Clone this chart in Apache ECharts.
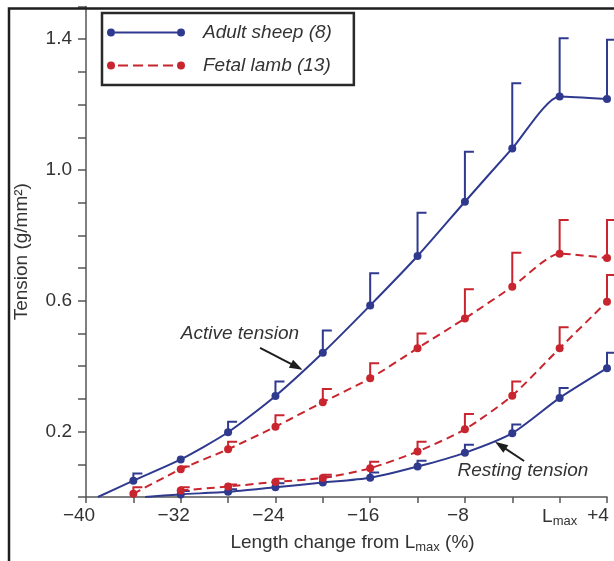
<!DOCTYPE html>
<html lang="en" style="height: 100%">
<head>
  <meta charset="utf-8">
  <title>Tension vs length change</title>
  <script type="text/javascript" src="https://fastly.jsdelivr.net/npm/echarts@6/dist/echarts.min.js"></script>
</head>
<body style="height: 100%; margin: 0; background: #fff">
  <div id="chart" style="width: 614px; height: 561px"></div>

  <script type="text/javascript">
    var dom = document.getElementById('chart');
    var myChart = echarts.init(dom);

    // x = length change from Lmax (%), y = tension (g/mm2)
    let adultActiveOrigin = -39;
    let adultActiveX = [-36, -32, -28, -24, -20, -16, -12, -8, -4, 0, 4];
    let adultActive = [0.05, 0.115, 0.198, 0.309, 0.441, 0.586, 0.737, 0.903, 1.066, 1.225, 1.217];
    let adultActiveErr = [0.022, 0, 0.032, 0.044, 0.068, 0.098, 0.132, 0.153, 0.199, 0.178, 0.181];

    let adultRestingOrigin = -35;
    let adultRestingX = [-32, -28, -24, -20, -16, -12, -8, -4, 0, 4];
    let adultResting = [0.008, 0.016, 0.03, 0.044, 0.059, 0.093, 0.135, 0.195, 0.303, 0.394];
    let adultRestingErr = [0.01, 0.008, 0.012, 0.018, 0.016, 0.018, 0.025, 0.027, 0.03, 0.047];

    let fetalActiveX = [-36, -32, -28, -24, -20, -16, -12, -8, -4, 0, 4];
    let fetalActive = [0.01, 0.085, 0.146, 0.215, 0.29, 0.363, 0.455, 0.546, 0.643, 0.744, 0.731];
    let fetalActiveErr = [0.02, 0.008, 0.023, 0.035, 0.04, 0.046, 0.045, 0.089, 0.104, 0.103, 0.116];

    let fetalRestingX = [-32, -28, -24, -20, -16, -12, -8, -4, 0, 4];
    let fetalResting = [0.02, 0.032, 0.046, 0.058, 0.088, 0.139, 0.207, 0.31, 0.455, 0.597];
    let fetalRestingErr = [0.01, 0.006, 0.01, 0.01, 0.02, 0.03, 0.047, 0.043, 0.064, 0.082];

    let yLabels = [0.2, 0.6, 1.0, 1.4];
    let xLabels = [-40, -32, -24, -16, -8, 0, 4];

    const BLUE = '#2f3a8f';
    const RED = '#c9252f';
    const FONT = "'Liberation Sans', Arial, sans-serif";

    function pts(xs, ys, origin) {
      let d = xs.map((x, i) => [x, ys[i]]);
      if (origin !== undefined) d.unshift({ value: [origin, 0], symbol: 'none' });
      return d;
    }
    function errs(xs, ys, es) {
      return xs.map((x, i) => [x, ys[i], ys[i] + es[i]]).filter(d => d[2] > d[1]);
    }
    function renderErr(params, api) {
      let p0 = api.coord([api.value(0), api.value(1)]);
      let p1 = api.coord([api.value(0), api.value(2)]);
      return {
        type: 'polyline',
        shape: { points: [p0, p1, [p1[0] + 9, p1[1]]] },
        style: { stroke: api.visual('color'), lineWidth: 2, fill: null }
      };
    }
    function lineSeries(name, color, data, dashed) {
      return {
        name: name,
        type: 'line',
        data: data,
        smooth: 0.22,
        symbol: 'circle',
        symbolSize: 8,
        showAllSymbol: true,
        z: 3,
        itemStyle: { color: color },
        lineStyle: { color: color, width: 2, type: dashed ? [8, 5] : 'solid' }
      };
    }
    function errSeries(color, data) {
      return {
        type: 'custom',
        renderItem: renderErr,
        data: data,
        encode: { x: 0, y: [1, 2] },
        itemStyle: { color: color },
        z: 2,
        silent: true
      };
    }

    let adultIcon = 'path://M0,4a4,4 0 1,0 8,0a4,4 0 1,0 -8,0zM8,3h62v2h-62zM70,4a4,4 0 1,0 8,0a4,4 0 1,0 -8,0z';
    let fetalIcon = 'path://M0,4a4,4 0 1,0 8,0a4,4 0 1,0 -8,0zM11,3h10v2h-10zM26,3h10v2h-10zM41,3h10v2h-10zM56,3h10v2h-10zM70,4a4,4 0 1,0 8,0a4,4 0 1,0 -8,0z';

    let adultActiveLine = lineSeries('Adult sheep (8)', BLUE, pts(adultActiveX, adultActive, adultActiveOrigin), false);
    adultActiveLine.markPoint = {
      symbol: 'circle', symbolSize: 0, silent: true,
      label: { show: true, position: 'inside', formatter: '{b}', fontFamily: FONT, fontSize: 19, fontStyle: 'italic', color: '#333' },
      data: [
        { name: 'Active tension', coord: [-27, 0.5] },
        { name: 'Resting tension', coord: [-3.1, 0.08] }
      ]
    };
    adultActiveLine.markLine = {
      silent: true,
      symbol: ['none', 'triangle'],
      symbolSize: [9, 13],
      label: { show: false },
      lineStyle: { color: '#1e1e1e', width: 2, type: 'solid' },
      data: [
        [{ coord: [-25.3, 0.456] }, { coord: [-22.2, 0.398] }],
        [{ coord: [-3.0, 0.11] }, { coord: [-5.0, 0.158] }]
      ]
    };

    let option = {
      animation: false,
      textStyle: { fontFamily: FONT },
      grid: { left: 86, right: 7, top: 6.5, bottom: 64 },
      legend: {
        data: [
          { name: 'Adult sheep (8)', icon: adultIcon },
          { name: 'Fetal lamb (13)', icon: fetalIcon }
        ],
        orient: 'vertical',
        left: 102, top: 13,
        itemWidth: 78, itemHeight: 8, itemGap: 14,
        padding: [10, 22, 10, 5],
        borderColor: '#2a2a2a', borderWidth: 2.5,
        backgroundColor: '#fff',
        selectedMode: false,
        textStyle: { fontFamily: FONT, fontSize: 19, fontStyle: 'italic', color: '#333', padding: [0, 0, 0, 13] }
      },
      xAxis: {
        type: 'value',
        min: -40, max: 4, interval: 4,
        name: '{a|Length change from L}{s|max}{a| (%)}',
        nameLocation: 'middle',
        nameGap: 35,
        nameTextStyle: {
          padding: [0, 0, 0, 12],
          rich: {
            a: { fontFamily: FONT, fontSize: 19, color: '#333', lineHeight: 22 },
            s: { fontFamily: FONT, fontSize: 13, color: '#333', lineHeight: 10, verticalAlign: 'bottom' }
          }
        },
        axisLine: { onZero: false, lineStyle: { color: '#555', width: 1.5 } },
        axisTick: { show: true, length: 6, lineStyle: { color: '#555', width: 1.5 } },
        splitLine: { show: false },
        axisLabel: {
          margin: 9,
          color: '#333',
          fontSize: 19,
          formatter: function (v) {
            if (xLabels.indexOf(v) < 0) return '';
            if (v === 0) return '{l|L}{s|max}';
            if (v > 0) return '{p|+' + v + '}';
            return '{n|\u2212' + Math.abs(v) + '}';
          },
          rich: {
            n: { fontFamily: FONT, fontSize: 19, color: '#333', padding: [0, 14, 0, 0] },
            p: { fontFamily: FONT, fontSize: 19, color: '#333', padding: [0, 18, 0, 0] },
            l: { fontFamily: FONT, fontSize: 19, color: '#333', lineHeight: 22 },
            s: { fontFamily: FONT, fontSize: 13, color: '#333', lineHeight: 10, verticalAlign: 'bottom' }
          }
        }
      },
      yAxis: {
        type: 'value',
        min: 0, max: 1.5, interval: 0.1,
        name: 'Tension (g/mm\u00b2)',
        nameLocation: 'middle',
        nameGap: 55,
        nameTextStyle: { fontFamily: FONT, fontSize: 19, color: '#333' },
        axisLine: { show: true, onZero: false, lineStyle: { color: '#555', width: 1.5 } },
        axisTick: { show: true, length: 8, lineStyle: { color: '#555', width: 1.5 } },
        splitLine: { show: false },
        axisLabel: {
          margin: 14,
          color: '#333',
          fontSize: 19,
          formatter: function (v) {
            let k = Math.round(v * 10);
            return yLabels.some(l => Math.round(l * 10) === k) ? (k / 10).toFixed(1) : '';
          }
        }
      },
      graphic: [{
        type: 'rect', z: 100, silent: true,
        shape: { x: 9, y: 8.5, width: 700, height: 700 },
        style: { fill: null, stroke: '#1e1e1e', lineWidth: 2.5 }
      }],
      series: [
        errSeries(BLUE, errs(adultActiveX, adultActive, adultActiveErr)),
        errSeries(BLUE, errs(adultRestingX, adultResting, adultRestingErr)),
        errSeries(RED, errs(fetalActiveX, fetalActive, fetalActiveErr)),
        errSeries(RED, errs(fetalRestingX, fetalResting, fetalRestingErr)),
        adultActiveLine,
        lineSeries('Adult sheep (8)', BLUE, pts(adultRestingX, adultResting, adultRestingOrigin), false),
        lineSeries('Fetal lamb (13)', RED, pts(fetalActiveX, fetalActive), true),
        lineSeries('Fetal lamb (13)', RED, pts(fetalRestingX, fetalResting), true)
      ]
    };

    myChart.setOption(option);
  </script>
</body>
</html>
